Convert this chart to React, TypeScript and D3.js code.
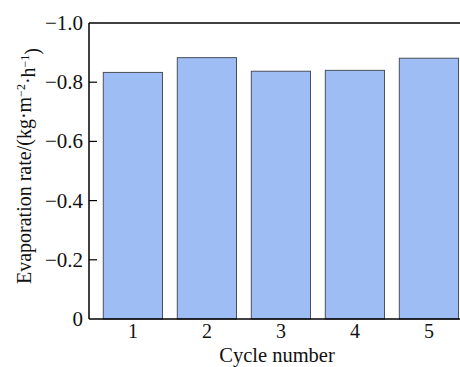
import React from "react";
import * as d3 from "d3";

const categories = ["1", "2", "3", "4", "5"];
const values = [-0.833, -0.883, -0.837, -0.84, -0.881];
const yTicks = [0, -0.2, -0.4, -0.6, -0.8, -1.0];
const yTickLabels = ["0", "\u22120.2", "\u22120.4", "\u22120.6", "\u22120.8", "\u22121.0"];
const xTitle = "Cycle number";

const W = 460;
const H = 367;
const left = 89;
const top = 23;
const bottom = 319;
const right = 472.8;

export default function App() {
  const y = d3.scaleLinear().domain([0, -1.0]).range([bottom, top]);
  const x = d3
    .scaleBand<string>()
    .domain(categories)
    .range([left, right])
    .paddingInner(0.2)
    .paddingOuter(0.193);
  const font = "'Liberation Serif', 'Times New Roman', serif";
  return (
    <svg
      width={W}
      height={H}
      style={{ position: "absolute", left: 0, top: 0, background: "#fff" }}
      fontFamily={font}
    >
      {categories.map((c, i) => (
        <rect
          key={c}
          x={x(c)}
          y={y(values[i])}
          width={x.bandwidth()}
          height={y(0) - y(values[i])}
          fill="#9ebdf5"
          stroke="#4a4f5a"
          strokeWidth={1}
        />
      ))}
      <line x1={left} x2={W + 5} y1={top} y2={top} stroke="#000" strokeWidth={1.5} />
      <line x1={left} x2={W + 5} y1={bottom} y2={bottom} stroke="#000" strokeWidth={1.5} />
      <line x1={left} x2={left} y1={top} y2={bottom} stroke="#000" strokeWidth={1.5} />
      {yTicks.map((t, i) => (
        <g key={t}>
          {t !== 0 && t !== -1.0 && (
            <line x1={left} x2={left + 8} y1={y(t)} y2={y(t)} stroke="#000" strokeWidth={1.2} />
          )}
          <text
            x={83}
            y={y(t)}
            dy="0.33em"
            textAnchor="end"
            fontSize={21}
            fill="#111"
          >
            {yTickLabels[i]}
          </text>
        </g>
      ))}
      {categories.map((c) => (
        <text
          key={c}
          x={(x(c) as number) + x.bandwidth() / 2}
          y={338}
          textAnchor="middle"
          fontSize={20}
          fill="#111"
        >
          {c}
        </text>
      ))}
      <text x={277} y={362} textAnchor="middle" fontSize={20.5} fill="#111">
        {xTitle}
      </text>
      <text
        transform={`translate(24, 166) rotate(-90)`}
        dy="0.35em"
        textAnchor="middle"
        fontSize={20}
        fill="#111"
      >
        Evaporation rate/(kg·m
        <tspan dy="-0.5em" fontSize={12}>−2</tspan>
        <tspan dy="0.5em">·h</tspan>
        <tspan dy="-0.5em" fontSize={12}>−1</tspan>
        <tspan dy="0.5em">)</tspan>
      </text>
    </svg>
  );
}
